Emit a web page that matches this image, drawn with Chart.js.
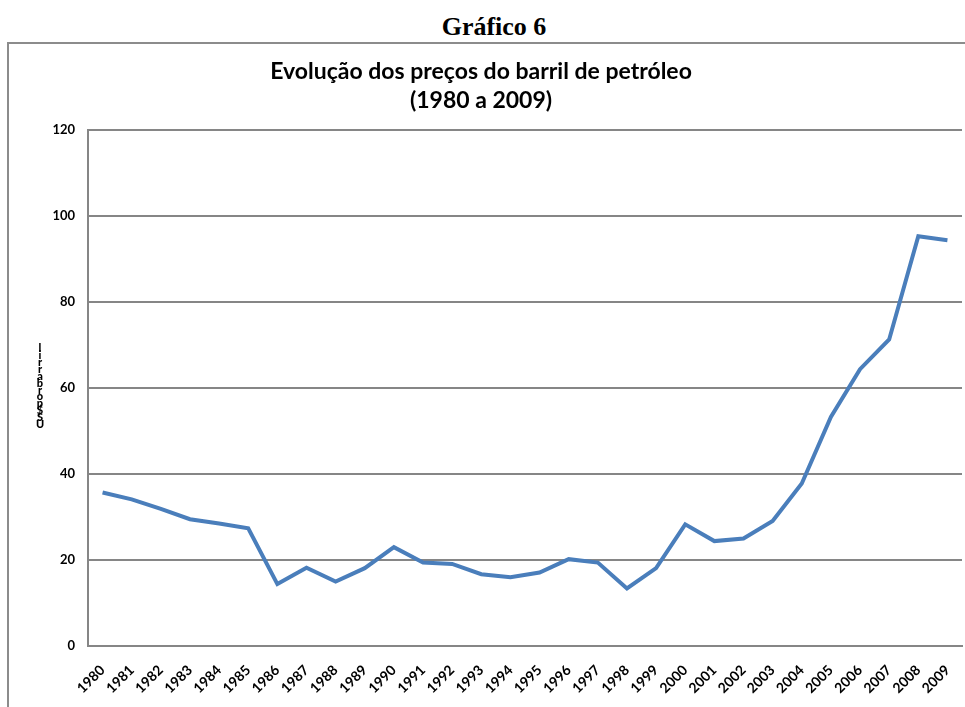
<!DOCTYPE html>
<html>
<head>
<meta charset="utf-8">
<script src="https://cdn.jsdelivr.net/npm/chart.js@4.4.0/dist/chart.umd.min.js"></script>
<style>
  html, body { margin: 0; padding: 0; background: #fff; }
  #wrap { position: relative; width: 965px; height: 707px; overflow: hidden; }
  #heading {
    position: absolute; left: 0; top: 12px; width: 988px; text-align: center;
    font: bold 26px "Liberation Serif", "Times New Roman", serif; color: #000;
  }
  #frame {
    position: absolute; left: 7px; top: 42px; width: 980px; height: 700px;
    border-left: 2px solid #8c8c8c; border-top: 2px solid #8c8c8c;
  }
  canvas { position: absolute; left: 0; top: 0; }
</style>
</head>
<body>
<div id="wrap">
  <div id="heading">Gráfico 6</div>
  <div id="frame"></div>
  <canvas id="myChart" width="965" height="707"></canvas>
</div>
<script>
// anos e preço médio do barril (US$)
const years = ["1980", "1981", "1982", "1983", "1984", "1985", "1986", "1987", "1988", "1989",
               "1990", "1991", "1992", "1993", "1994", "1995", "1996", "1997", "1998", "1999",
               "2000", "2001", "2002", "2003", "2004", "2005", "2006", "2007", "2008", "2009"];
const prices = [35.7, 34.1, 31.9, 29.5, 28.5, 27.4, 14.4, 18.2, 15.0, 18.1,
                23.0, 19.4, 19.1, 16.7, 16.0, 17.1, 20.2, 19.4, 13.4, 18.1,
                28.3, 24.4, 25.0, 29.1, 37.8, 53.3, 64.4, 71.3, 95.3, 94.4];
const yTicks = [0, 20, 40, 60, 80, 100, 120];
const titleLines = ["Evolução dos preços do barril de petróleo", "(1980 a 2009)"];
const yLabel = "US$ por barril";

const gridGray = "#868686";
const fontFamily = "Lato, 'Open Sans', sans-serif";

// Excel-style stacked (upright) axis label
const stackedLabel = {
    id: "stackedLabel",
    afterDraw(chart) {
        const ctx = chart.ctx;
        const chars = yLabel.replace(/ /g, "").split("");
        ctx.save();
        ctx.fillStyle = "#000";
        ctx.font = "900 11px " + fontFamily;
        ctx.textAlign = "center";
        ctx.textBaseline = "bottom";
        let y = 430;
        chars.forEach((c) => {
            ctx.fillText(c, 40, y);
            y -= 6.9;
        });
        ctx.restore();
    },
};

document.addEventListener("DOMContentLoaded", function () {
    const ctx = document.getElementById("myChart").getContext("2d");

    new Chart(ctx, {
        type: "line",
        data: {
            labels: years,
            datasets: [
                {
                    label: "Preço",
                    data: prices,
                    borderColor: "#4a7ebb",
                    backgroundColor: "#4a7ebb",
                    borderWidth: 4,
                    pointRadius: 0,
                    tension: 0,
                    borderJoinStyle: "miter",
                },
            ],
        },
        options: {
            responsive: false,
            animation: false,
            layout: {
                padding: { top: 0, left: 0, right: 3, bottom: 0 },
            },
            plugins: {
                legend: { display: false },
                tooltip: { enabled: false },
                title: {
                    display: true,
                    text: titleLines,
                    color: "#000",
                    font: { family: fontFamily, size: 23, weight: "bold", lineHeight: 1.22 },
                    padding: { top: 58, bottom: 16 },
                },
            },
            scales: {
                x: {
                    offset: true,
                    afterFit: (scale) => {
                        scale.height = 61;
                        scale.paddingLeft = 0;
                        scale.paddingRight = 0;
                    },
                    grid: { display: false, drawTicks: false },
                    border: { display: true, color: gridGray, width: 2 },
                    ticks: {
                        color: "#000",
                        font: { family: fontFamily, size: 14, weight: "bold" },
                        minRotation: 45,
                        maxRotation: 45,
                        autoSkip: false,
                        padding: 16,
                    },
                },
                y: {
                    min: 0,
                    max: 120,
                    afterFit: (scale) => { scale.width = 88; },
                    afterBuildTicks: (scale) => {
                        scale.ticks = yTicks.map((v) => ({ value: v }));
                    },
                    grid: { color: gridGray, lineWidth: 2, drawTicks: false },
                    border: { display: true, color: gridGray, width: 2 },
                    ticks: {
                        color: "#000",
                        font: { family: fontFamily, size: 13, weight: "bold" },
                        padding: 13,
                    },
                },
            },
        },
        plugins: [stackedLabel],
    });
});
</script>
</body>
</html>
